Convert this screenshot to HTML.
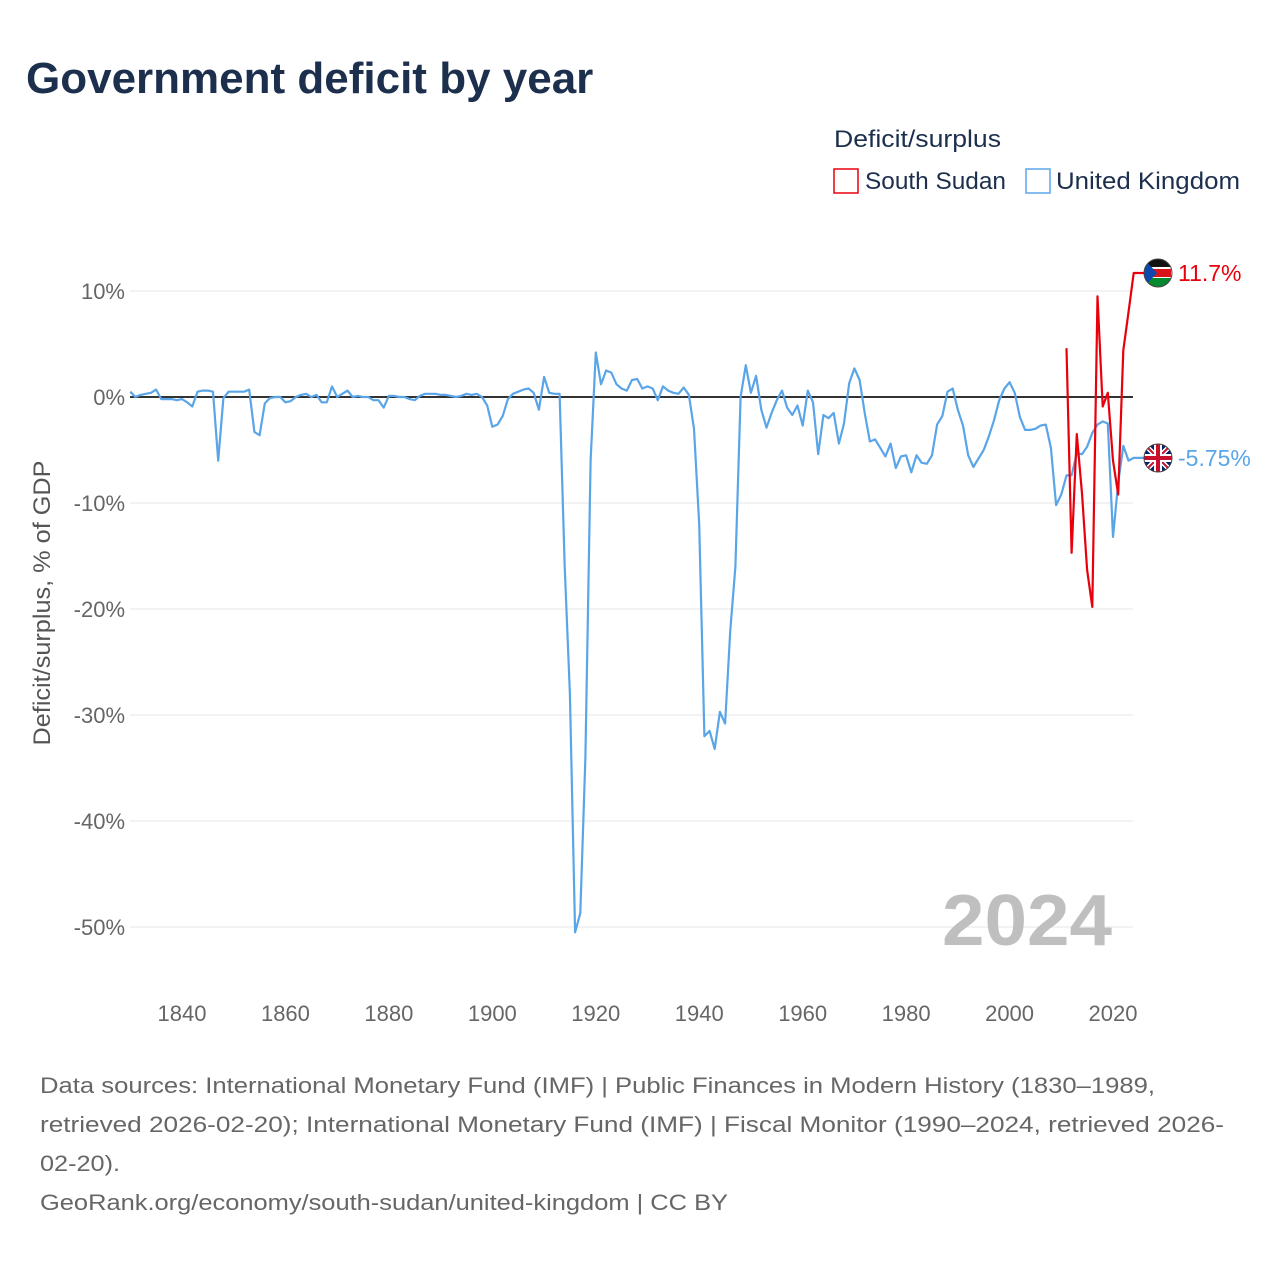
<!DOCTYPE html>
<html><head><meta charset="utf-8"><style>
body{margin:0;background:#fff;font-family:"Liberation Sans",sans-serif;}
#wrap{position:relative;width:1280px;height:1280px;overflow:hidden;}
</style></head><body>
<div id="wrap">
<svg id="chart" width="1280" height="1280" xmlns="http://www.w3.org/2000/svg" font-family="Liberation Sans, sans-serif">
<text x="26" y="93" font-size="44" font-weight="bold" fill="#1c2f4d">Government deficit by year</text>
<text x="834" y="147" font-size="24" fill="#1c2f4d" textLength="167" lengthAdjust="spacingAndGlyphs">Deficit/surplus</text>
<g><rect x="834" y="169" width="24" height="24" fill="#fff" stroke="#e8000b" stroke-width="1.5"/><text x="865" y="189" font-size="24" fill="#1c2f4d" textLength="141" lengthAdjust="spacingAndGlyphs">South Sudan</text></g>
<g><rect x="1026" y="169" width="24" height="24" fill="#fff" stroke="#5aa5e8" stroke-width="1.5"/><text x="1056" y="189" font-size="24" fill="#1c2f4d" textLength="184" lengthAdjust="spacingAndGlyphs">United Kingdom</text></g>
<g id="grid"></g>
<g id="yticks"></g>
<g id="xticks"></g>
<text transform="translate(50,603) rotate(-90)" text-anchor="middle" font-size="24" fill="#555" textLength="285" lengthAdjust="spacingAndGlyphs">Deficit/surplus, % of GDP</text>
<text x="942" y="945" font-size="72" font-weight="bold" fill="#bfbfbf" textLength="170" lengthAdjust="spacingAndGlyphs">2024</text>
<g id="series"></g>
<g font-size="22" fill="#666" lengthAdjust="spacingAndGlyphs">
<text x="40" y="1093" textLength="1115" lengthAdjust="spacingAndGlyphs">Data sources: International Monetary Fund (IMF) | Public Finances in Modern History (1830–1989,</text>
<text x="40" y="1132" textLength="1184" lengthAdjust="spacingAndGlyphs">retrieved 2026-02-20); International Monetary Fund (IMF) | Fiscal Monitor (1990–2024, retrieved 2026-</text>
<text x="40" y="1171" textLength="80" lengthAdjust="spacingAndGlyphs">02-20).</text>
<text x="40" y="1210" textLength="688" lengthAdjust="spacingAndGlyphs">GeoRank.org/economy/south-sudan/united-kingdom | CC BY</text>
</g>
</svg>
</div>
<script>
const yTicks=[10,0,-10,-20,-30,-40,-50];
const xTicks=[1840,1860,1880,1900,1920,1940,1960,1980,2000,2020];
const ukStart=1830;
const ukValues=[0.5,0,0.2,0.3,0.4,0.7,-0.2,-0.2,-0.2,-0.3,-0.2,-0.5,-0.9,0.5,0.6,0.6,0.5,-6.0,-0.1,0.5,
0.5,0.5,0.5,0.7,-3.3,-3.6,-0.6,-0.1,0,0,-0.5,-0.4,0,0.2,0.3,0,0.2,-0.5,-0.5,1.0,
0,0.3,0.6,0,0.1,0,0,-0.3,-0.3,-1.0,0.1,0.1,0,0,-0.2,-0.3,0.1,0.3,0.3,0.3,
0.2,0.2,0.1,0,0.1,0.3,0.2,0.3,0,-0.8,-2.8,-2.6,-1.8,-0.2,0.3,0.5,0.7,0.8,0.4,-1.2,
1.9,0.4,0.3,0.3,-16,-28,-50.5,-48.7,-34,-6,4.2,1.2,2.5,2.3,1.2,0.8,0.6,1.6,1.7,0.8,
1.0,0.8,-0.3,1.0,0.6,0.4,0.3,0.9,0.2,-3,-12,-32,-31.5,-33.2,-29.7,-30.8,-22,-16,0,3,
0.4,2,-1.2,-2.9,-1.5,-0.3,0.6,-1,-1.7,-0.8,-2.7,0.6,-0.5,-5.4,-1.7,-2,-1.5,-4.4,-2.5,1.3,
2.7,1.6,-1.5,-4.2,-4,-4.8,-5.6,-4.4,-6.7,-5.6,-5.5,-7.1,-5.5,-6.2,-6.3,-5.5,-2.6,-1.8,0.5,0.8,
-1.2,-2.7,-5.5,-6.6,-5.8,-5,-3.7,-2.2,-0.3,0.8,1.4,0.4,-1.9,-3.1,-3.1,-3.0,-2.7,-2.6,-4.8,-10.2,
-9.2,-7.4,-7.4,-5.3,-5.4,-4.7,-3.4,-2.6,-2.3,-2.5,-13.2,-8.1,-4.6,-6.0,-5.75];
const ssStart=2011;
const ssValues=[4.6,-14.7,-3.5,-9.1,-16.3,-19.8,9.5,-0.9,0.4,-6,-9.2,4.4,8,11.7];
const ukLabel="-5.75%", ssLabel="11.7%";

const X=y=>182+(y-1840)*(1113-182)/180;
const Y=v=>397-v*10.6;
const NS="http://www.w3.org/2000/svg";
function mk(t,a,p){const e=document.createElementNS(NS,t);for(const k in a)e.setAttribute(k,a[k]);p.appendChild(e);return e;}
const grid=document.getElementById('grid'),yt=document.getElementById('yticks'),xt=document.getElementById('xticks'),ser=document.getElementById('series');
yTicks.forEach(v=>{
  const l=mk('line',{x1:130,x2:1133,y1:Y(v),y2:Y(v),stroke:'#e6e6e6','stroke-width':1},grid);
  
  
  const t=mk('text',{x:125,y:Y(v)+8,'text-anchor':'end','font-size':22,fill:'#666'},yt);
  t.textContent=v+'%';
  
  
});
xTicks.forEach(v=>{
  const t=mk('text',{x:X(v),y:1021,'text-anchor':'middle','font-size':22,fill:'#666'},xt);
  t.textContent=v;
  
  
});
const zl=mk('line',{x1:130,x2:1133,y1:Y(0),y2:Y(0),stroke:'#333','stroke-width':2},ser);


function path(vals,start,col,name){
  let d=vals.map((v,i)=>(i?'L':'M')+X(start+i).toFixed(1)+','+Y(v).toFixed(1)).join('');
  d+='L1145,'+Y(vals[vals.length-1]).toFixed(1);
  const p=mk('path',{d:d,fill:'none',stroke:col,'stroke-width':2.2,'stroke-linejoin':'round'},ser);
  
  
}
path(ukValues,ukStart,'#5aa5e8','uk-line');
path(ssValues,ssStart,'#e8000b','south-sudan-line');
function flag(y,type,label,col,name){
  const g=mk('g',{},ser);
  
  
  const cx=1158;
  const cp=mk('clipPath',{id:'c'+type},g);
  mk('circle',{cx:cx,cy:y,r:14},cp);
  const f=mk('g',{'clip-path':'url(#c'+type+')'},g);
  if(type==='ss'){
    mk('rect',{x:cx-14,y:y-14,width:28,height:9,fill:'#111'},f);
    mk('rect',{x:cx-14,y:y-5,width:28,height:10,fill:'#da121a',stroke:'#fff','stroke-width':2},f);
    mk('rect',{x:cx-14,y:y+5,width:28,height:9,fill:'#078930'},f);
    mk('polygon',{points:(cx-14)+','+(y-14)+' '+(cx-1)+','+y+' '+(cx-14)+','+(y+14),fill:'#0f47af'},f);
  }else{
    mk('rect',{x:cx-14,y:y-14,width:28,height:28,fill:'#012169'},f);
    mk('path',{d:`M${cx-14},${y-14}L${cx+14},${y+14}M${cx+14},${y-14}L${cx-14},${y+14}`,stroke:'#fff','stroke-width':5},f);
    mk('path',{d:`M${cx-14},${y-14}L${cx+14},${y+14}M${cx+14},${y-14}L${cx-14},${y+14}`,stroke:'#c8102e','stroke-width':2},f);
    mk('path',{d:`M${cx},${y-14}V${y+14}M${cx-14},${y}H${cx+14}`,stroke:'#fff','stroke-width':8},f);
    mk('path',{d:`M${cx},${y-14}V${y+14}M${cx-14},${y}H${cx+14}`,stroke:'#c8102e','stroke-width':4},f);
  }
  mk('circle',{cx:cx,cy:y,r:14,fill:'none',stroke:'#444','stroke-width':1},g);
  const t=mk('text',{x:1178,y:y+8,'font-size':23,fill:col},g);
  t.textContent=label;
}
flag(Y(ssValues[ssValues.length-1]),'ss',ssLabel,'#e8000b','south-sudan-end-label');
flag(Y(ukValues[ukValues.length-1]),'uk',ukLabel,'#5aa5e8','uk-end-label');
</script>
</body></html>
